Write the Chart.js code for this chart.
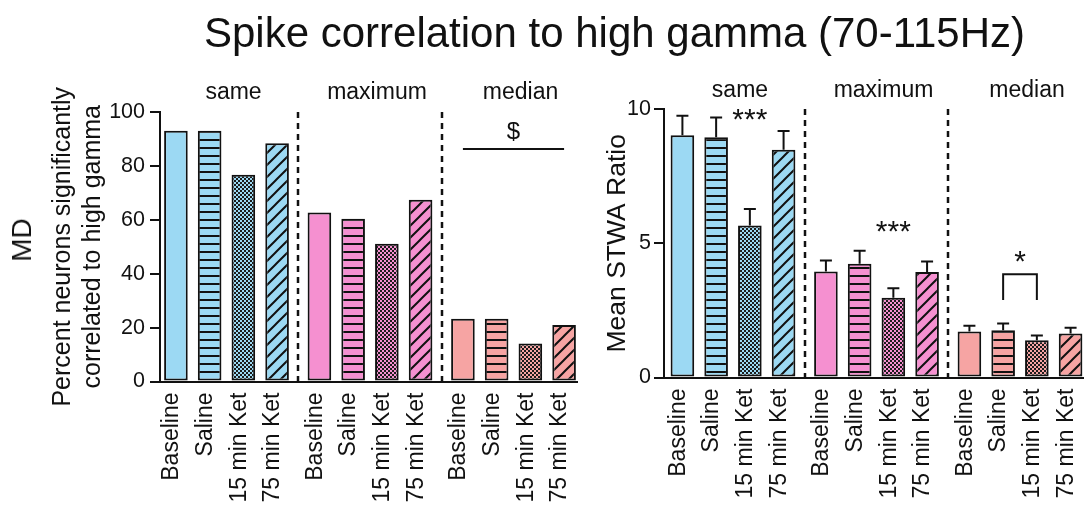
<!DOCTYPE html>
<html>
<head>
<meta charset="utf-8">
<script src="https://cdn.jsdelivr.net/npm/chart.js@4.4.0/dist/chart.umd.min.js"></script>
<style>
  html, body { margin: 0; padding: 0; background: #fff; }
  #wrap { position: relative; width: 1084px; height: 506px; overflow: hidden;
          font-family: 'Liberation Sans', Arial, sans-serif; color: #111; }
  #title { position: absolute; left: 204px; top: 12px; font-size: 42px; line-height: 1; white-space: nowrap; }
  #md { position: absolute; left: 22px; top: 240px; font-size: 28px; line-height: 1;
        transform: translate(-50%, -50%) rotate(-90deg); }
  #left { position: absolute; left: 0; top: 0; }
  #right { position: absolute; left: 580px; top: 0; }
</style>
</head>
<body>
<div id="wrap">
  <canvas id="left" width="580" height="506"></canvas>
  <canvas id="right" width="504" height="506"></canvas>
  <div id="title">Spike correlation to high gamma (70-115Hz)</div>
  <div id="md">MD</div>
</div>
<script>
// groups along the x axis and the four conditions inside each group
const groups = ['same', 'maximum', 'median'];
const conditions = ['Baseline', 'Saline', '15 min Ket', '75 min Ket'];

// left panel: percent neurons significantly correlated to high gamma
const pctSame = [93.0, 93.0, 76.7, 88.4];
const pctMaximum = [62.7, 60.4, 51.1, 67.4];
const pctMedian = [23.3, 23.3, 14.1, 21.0];
const pctTicks = [0, 20, 40, 60, 80, 100];

// right panel: mean STWA ratio (+ SEM)
const stwaSame = [9.02, 8.95, 5.66, 8.48];
const stwaMaximum = [3.95, 4.24, 2.97, 3.93];
const stwaMedian = [1.71, 1.76, 1.39, 1.64];
const semSame = [0.73, 0.73, 0.62, 0.70];
const semMaximum = [0.41, 0.48, 0.35, 0.39];
const semMedian = [0.22, 0.25, 0.17, 0.21];
const stwaTicks = [0, 5, 10];

// significance marks (group, bar range, height in data units)
const pctMarks = [{ text: '$', group: 2, from: 0, to: 3, y: 92.6, line: 86.3 }];
const stwaMarks = [
    { text: '***', group: 0, from: 2, to: 2, y: 9.8 },
    { text: '***', group: 1, from: 2, to: 2, y: 5.6 },
    { text: '*', group: 2, from: 1, to: 2, y: 4.5, line: 3.85, drop: 2.89 }
];

const FONT = "'Liberation Sans', Arial, sans-serif";
const INK = '#111';
const groupColors = ['#9cd9f3', '#f590d0', '#f6a4a3'];

Chart.defaults.font.family = FONT;
Chart.defaults.color = INK;

function makeTile(size, draw) {
    const c = document.createElement('canvas');
    c.width = size;
    c.height = size;
    const g = c.getContext('2d');
    draw(g, size);
    return g.createPattern(c, 'repeat');
}

// 0 solid, 1 horizontal stripes, 2 dots, 3 diagonal hatch
function fillFor(kind, color) {
    if (kind === 0) return color;
    if (kind === 1) {
        return makeTile(8, (g, s) => {
            g.fillStyle = color; g.fillRect(0, 0, s, s);
            g.fillStyle = INK; g.fillRect(0, 3, s, 2);
        });
    }
    if (kind === 2) {
        return makeTile(4, (g, s) => {
            g.fillStyle = '#1c1c1c'; g.fillRect(0, 0, s, s);
            g.fillStyle = color; g.fillRect(0, 0, 2, 2); g.fillRect(2, 2, 2, 2);
        });
    }
    return makeTile(12, (g, s) => {
        g.fillStyle = color; g.fillRect(0, 0, s, s);
        g.strokeStyle = INK; g.lineWidth = 2;
        g.beginPath();
        g.moveTo(-2, s + 2); g.lineTo(s + 2, -2);
        g.moveTo(-2, 2); g.lineTo(2, -2);
        g.moveTo(s - 2, s + 2); g.lineTo(s + 2, s - 2);
        g.stroke();
    });
}

function buildDatasets(rows) {
    return conditions.map((name, c) => ({
        label: name,
        xAxisID: 'x',
        data: rows.map((row, g) => ({ x: g, y: row[c] })),
        backgroundColor: groups.map((_, g) => fillFor(c, groupColors[g])),
        borderColor: INK,
        borderWidth: 2,
        borderSkipped: false,
        categoryPercentage: 0.94,
        barPercentage: 0.70
    }));
}

function barX(chart, group, cond) {
    return chart.getDatasetMeta(cond).data[group].x;
}

// separators, rotated bar labels, error bars and significance marks
function decorPlugin(marks, errors) {
    return {
        id: 'decor',
        beforeDatasetsDraw(chart) {
            const { ctx, chartArea } = chart;
            const xs = chart.scales.x;
            ctx.save();
            ctx.strokeStyle = INK;
            ctx.lineWidth = 2.5;
            ctx.setLineDash([6, 5]);
            for (let g = 0; g < groups.length - 1; g++) {
                const px = Math.round(xs.getPixelForValue(g + 0.5));
                ctx.beginPath();
                ctx.moveTo(px, chartArea.top);
                ctx.lineTo(px, chartArea.bottom);
                ctx.stroke();
            }
            ctx.restore();
        },
        afterDatasetsDraw(chart) {
            const { ctx, chartArea } = chart;
            const ys = chart.scales.y;
            ctx.save();
            ctx.strokeStyle = INK;
            ctx.fillStyle = INK;
            ctx.lineWidth = 2;

            if (errors) {
                conditions.forEach((_, c) => {
                    chart.getDatasetMeta(c).data.forEach((el, g) => {
                        const v = chart.data.datasets[c].data[g].y;
                        const top = ys.getPixelForValue(v + errors[g][c]);
                        ctx.beginPath();
                        ctx.moveTo(el.x, el.y);
                        ctx.lineTo(el.x, top);
                        ctx.moveTo(el.x - 6, top);
                        ctx.lineTo(el.x + 6, top);
                        ctx.stroke();
                    });
                });
            }

            marks.forEach(m => {
                const x1 = barX(chart, m.group, m.from);
                const x2 = barX(chart, m.group, m.to);
                if (m.line !== undefined) {
                    const ly = ys.getPixelForValue(m.line);
                    ctx.beginPath();
                    if (m.drop !== undefined) {
                        const dy = ys.getPixelForValue(m.drop);
                        ctx.moveTo(x1, dy); ctx.lineTo(x1, ly); ctx.lineTo(x2, ly); ctx.lineTo(x2, dy);
                    } else {
                        ctx.moveTo(x1, ly); ctx.lineTo(x2, ly);
                    }
                    ctx.stroke();
                }
                ctx.font = (m.text === '$' ? '24px ' : '30px ') + FONT;
                ctx.textAlign = 'center';
                ctx.textBaseline = 'middle';
                ctx.fillText(m.text, (x1 + x2) / 2, ys.getPixelForValue(m.y) + (m.text === '$' ? 0 : 6));
            });

            ctx.font = '23px ' + FONT;
            ctx.textAlign = 'right';
            ctx.textBaseline = 'middle';
            conditions.forEach((name, c) => {
                chart.getDatasetMeta(c).data.forEach(el => {
                    ctx.save();
                    ctx.translate(el.x - 4, chartArea.bottom + 11);
                    ctx.rotate(-Math.PI / 2);
                    ctx.fillText(name, 0, 0);
                    ctx.restore();
                });
            });
            ctx.restore();
        }
    };
}

function groupTicks(s) {
    s.ticks = groups.map((_, i) => ({ value: i }));
}

function makePanel(id, rows, ticks, yMax, p) {
    return new Chart(document.getElementById(id), {
        type: 'bar',
        data: { datasets: buildDatasets(rows) },
        options: {
            responsive: false,
            animation: false,
            devicePixelRatio: 1,
            layout: { padding: { left: 0, right: p.padRight, top: 0, bottom: 0 } },
            plugins: { legend: { display: false }, tooltip: { enabled: false } },
            scales: {
                x: {
                    type: 'linear', position: 'bottom', min: p.xMin, max: p.xMax, offset: false,
                    afterBuildTicks: groupTicks,
                    grid: { display: false },
                    border: { display: true, color: INK, width: 2 },
                    ticks: { display: false },
                    afterFit: s => { s.height = p.bottom; }
                },
                xTop: {
                    type: 'linear', position: 'top', min: p.xMin, max: p.xMax, offset: false,
                    grid: { display: false, drawTicks: false },
                    border: { display: false },
                    afterBuildTicks: groupTicks,
                    ticks: {
                        callback: v => groups[v], font: { size: 23 }, color: INK,
                        padding: p.topPad, labelOffset: 7, maxRotation: 0, autoSkip: false
                    },
                    afterFit: s => { s.height = p.top; }
                },
                y: {
                    min: 0, max: yMax,
                    afterBuildTicks: s => { s.ticks = ticks.map(v => ({ value: v })); },
                    grid: { display: true, drawOnChartArea: false, drawTicks: true, tickLength: 10, color: INK, lineWidth: 2 },
                    border: { display: true, color: INK, width: 2 },
                    ticks: { font: { size: 21.5 }, color: INK, padding: p.tickPad },
                    title: {
                        display: true, text: p.yTitle, color: INK,
                        font: { size: p.yTitleSize }, padding: { top: p.yTitlePad, bottom: 0 }
                    },
                    afterFit: s => { s.width = p.yWidth; }
                }
            }
        },
        plugins: [decorPlugin(p.marks, p.errors)]
    });
}

makePanel('left', [pctSame, pctMaximum, pctMedian], pctTicks, 100, {
    xMin: -0.4634, xMax: 2.4425, padRight: 3, bottom: 124.5, top: 112, topPad: 6,
    tickPad: 5, yWidth: 160, yTitleSize: 25, yTitlePad: 48,
    yTitle: ['Percent neurons significantly', 'correlated to high gamma'],
    marks: pctMarks, errors: null
});

makePanel('right', [stwaSame, stwaMaximum, stwaMedian], stwaTicks, 10, {
    xMin: -0.4808, xMax: 2.446, padRight: 0, bottom: 128.5, top: 109, topPad: 5,
    tickPad: 3, yWidth: 84, yTitleSize: 26.5, yTitlePad: 22,
    yTitle: 'Mean STWA Ratio',
    marks: stwaMarks, errors: [semSame, semMaximum, semMedian]
});
</script>
</body>
</html>
